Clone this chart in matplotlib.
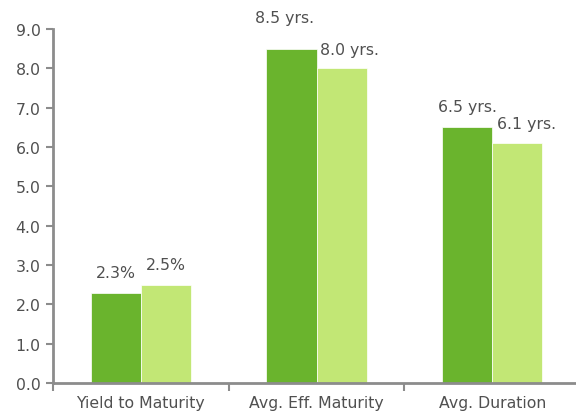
import matplotlib
matplotlib.use("Agg")
import matplotlib.pyplot as plt
import numpy as np

categories = ["Yield to Maturity", "Avg. Eff. Maturity", "Avg. Duration"]
series_a = [2.3, 8.5, 6.5]
series_b = [2.5, 8.0, 6.1]
labels_a = ["2.3%", "8.5 yrs.", "6.5 yrs."]
labels_b = ["2.5%", "8.0 yrs.", "6.1 yrs."]
yticks = [0, 1, 2, 3, 4, 5, 6, 7, 8, 9]

# label offsets in pixels (dx, dy) from bar top-center
offs_a = [(0, 20), (-7, 31), (0, 21)]
offs_b = [(0, 20), (8, 19), (9, 20)]

dark = "#6ab42d"
light = "#c2e775"
axis_col = "#8c8c8c"
text_col = "#505050"
fs = 11.3

plt.rcParams['font.family'] = ['DejaVu Sans']
fig = plt.figure(figsize=(5.76, 4.14), dpi=100)
ax = fig.add_axes([53/576, 1-384/414, 1-53/576, (384-30)/414])

x = np.arange(len(categories))
w = 0.285
ba = ax.bar(x - w/2, series_a, width=w, color=dark, edgecolor="white", linewidth=0.5, zorder=2)
bb = ax.bar(x + w/2, series_b, width=w, color=light, edgecolor="white", linewidth=0.5, zorder=2)

for bars, labs, offs in ((ba, labels_a, offs_a), (bb, labels_b, offs_b)):
    for r, lab, (dx, dy) in zip(bars, labs, offs):
        ax.annotate(lab, (r.get_x() + r.get_width()/2, r.get_height()),
                    xytext=(dx, dy), textcoords="offset pixels",
                    ha="center", va="center", fontsize=fs, color=text_col,
                    annotation_clip=False)

ax.set_xlim(-0.5, 2.477)
ax.set_ylim(0, 9)
ax.set_yticks(yticks)
ax.set_yticklabels([f"{v:.1f}" for v in yticks], fontsize=fs, color=text_col)
ax.set_xticks(x)
ax.set_xticklabels(categories, fontsize=fs, color=text_col)
ax.tick_params(axis="x", length=0, pad=9)
ax.set_xticks([-0.5, 0.5, 1.5], minor=True)
ax.tick_params(axis="x", which="minor", length=6, width=1.5, color=axis_col)
ax.tick_params(axis="y", length=5, width=1.5, color=axis_col, pad=4)

for s in ["top", "right"]:
    ax.spines[s].set_visible(False)
for s in ["left", "bottom"]:
    ax.spines[s].set_color(axis_col)
    ax.spines[s].set_linewidth(2)

fig.savefig("out.png", dpi=100)
